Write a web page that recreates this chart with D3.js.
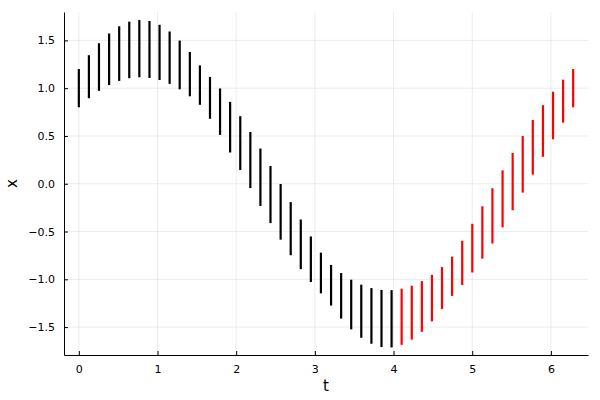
<!DOCTYPE html>
<html>
<head>
<meta charset="utf-8">
<script src="https://cdn.jsdelivr.net/npm/d3@7/dist/d3.min.js"></script>
<style>
  html, body { margin: 0; padding: 0; background: #fff; }
  svg { display: block; font-family: "DejaVu Sans", sans-serif; }
</style>
</head>
<body>
<svg id="chart" width="600" height="400"></svg>
<script>
// Data
const tValues = [0.000,0.128,0.256,0.385,0.513,0.641,0.769,0.898,1.026,1.154,
  1.282,1.411,1.539,1.667,1.795,1.923,2.052,2.180,2.308,2.436,
  2.565,2.693,2.821,2.949,3.077,3.206,3.334,3.462,3.590,3.719,
  3.847,3.975,4.103,4.232,4.360,4.488,4.616,4.744,4.873,5.001,
  5.129,5.257,5.386,5.514,5.642,5.770,5.899,6.027,6.155,6.283];
const xValues = [1.000,1.120,1.221,1.302,1.362,1.400,1.414,1.405,1.374,1.319,
  1.243,1.147,1.032,0.899,0.754,0.592,0.425,0.248,0.068,-0.113,
  -0.294,-0.470,-0.634,-0.790,-0.934,-1.062,-1.173,-1.264,-1.334,-1.383,
  -1.410,-1.413,-1.392,-1.349,-1.284,-1.197,-1.091,-0.968,-0.828,-0.674,
  -0.510,-0.336,-0.158,0.023,0.203,0.381,0.552,0.714,0.864,1.000];
const errValues = [0.200,0.225,0.249,0.270,0.286,0.296,0.300,0.298,0.289,0.274,
  0.255,0.232,0.206,0.219,0.243,0.265,0.282,0.294,0.300,0.299,
  0.291,0.278,0.260,0.238,0.213,0.213,0.238,0.260,0.278,0.291,
  0.299,0.300,0.294,0.282,0.265,0.243,0.219,0.206,0.232,0.255,
  0.274,0.289,0.298,0.300,0.296,0.286,0.270,0.249,0.225,0.200];
// series membership: first 32 points black, rest red
const seriesNames = ["before", "after"];
const seriesColors = ["#000000", "#ff0000"];
const seriesSplit = 32;
const xTicks = [0, 1, 2, 3, 4, 5, 6];
const yTicks = [-1.5, -1.0, -0.5, 0.0, 0.5, 1.0, 1.5];

const svg = d3.select("#chart");
const mLeft = 64, mRight = 588, mTop = 12, mBottom = 355;

const xScale = d3.scaleLinear().domain([-0.1885, 6.4717]).range([mLeft, mRight]);
const yScale = d3.scaleLinear().domain([-1.792, 1.797]).range([mBottom, mTop]);

// grid
const grid = svg.append("g");
grid.selectAll("line.vg").data(xTicks).enter().append("line")
  .attr("x1", d => xScale(d)).attr("x2", d => xScale(d))
  .attr("y1", mTop).attr("y2", mBottom)
  .attr("stroke", "#000").attr("stroke-opacity", 0.08).attr("stroke-width", 1);
grid.selectAll("line.hg").data(yTicks).enter().append("line")
  .attr("y1", d => yScale(d)).attr("y2", d => yScale(d))
  .attr("x1", mLeft).attr("x2", mRight)
  .attr("stroke", "#000").attr("stroke-opacity", 0.08).attr("stroke-width", 1);

// axes
const xAxis = d3.axisBottom(xScale).tickValues(xTicks).tickFormat(d3.format("d"))
  .tickSizeInner(-4).tickSizeOuter(0).tickPadding(10);
const gx = svg.append("g").attr("transform", `translate(0,${mBottom})`).call(xAxis);
const yAxis = d3.axisLeft(yScale).tickValues(yTicks).tickFormat(d3.format(".1f"))
  .tickSizeInner(-4).tickSizeOuter(0).tickPadding(9);
const gy = svg.append("g").attr("transform", `translate(${mLeft},0)`).call(yAxis);
[gx, gy].forEach(g => {
  g.select(".domain").attr("stroke", "#000").attr("stroke-width", 1);
  g.selectAll(".tick line").attr("stroke", "#000");
  g.selectAll(".tick text").attr("fill", "#000").style("font-size", "11px")
    .style("font-family", "'DejaVu Sans', sans-serif");
});

// error bars
const data = tValues.map((t, i) => ({ t, x: xValues[i], e: errValues[i], s: i < seriesSplit ? 0 : 1 }));
svg.append("g").selectAll("line.bar").data(data).enter().append("line")
  .attr("x1", d => xScale(d.t)).attr("x2", d => xScale(d.t))
  .attr("y1", d => yScale(d.x + d.e)).attr("y2", d => yScale(d.x - d.e))
  .attr("stroke", d => seriesColors[d.s]).attr("stroke-width", 2.2);

// axis labels
svg.append("text").attr("x", (mLeft + mRight) / 2).attr("y", 391)
  .attr("text-anchor", "middle").style("font-size", "15px").text("t");
svg.append("text").attr("transform", `translate(17,${(mTop + mBottom) / 2}) rotate(-90)`)
  .attr("text-anchor", "middle").style("font-size", "15px").text("x");
</script>
</body>
</html>
